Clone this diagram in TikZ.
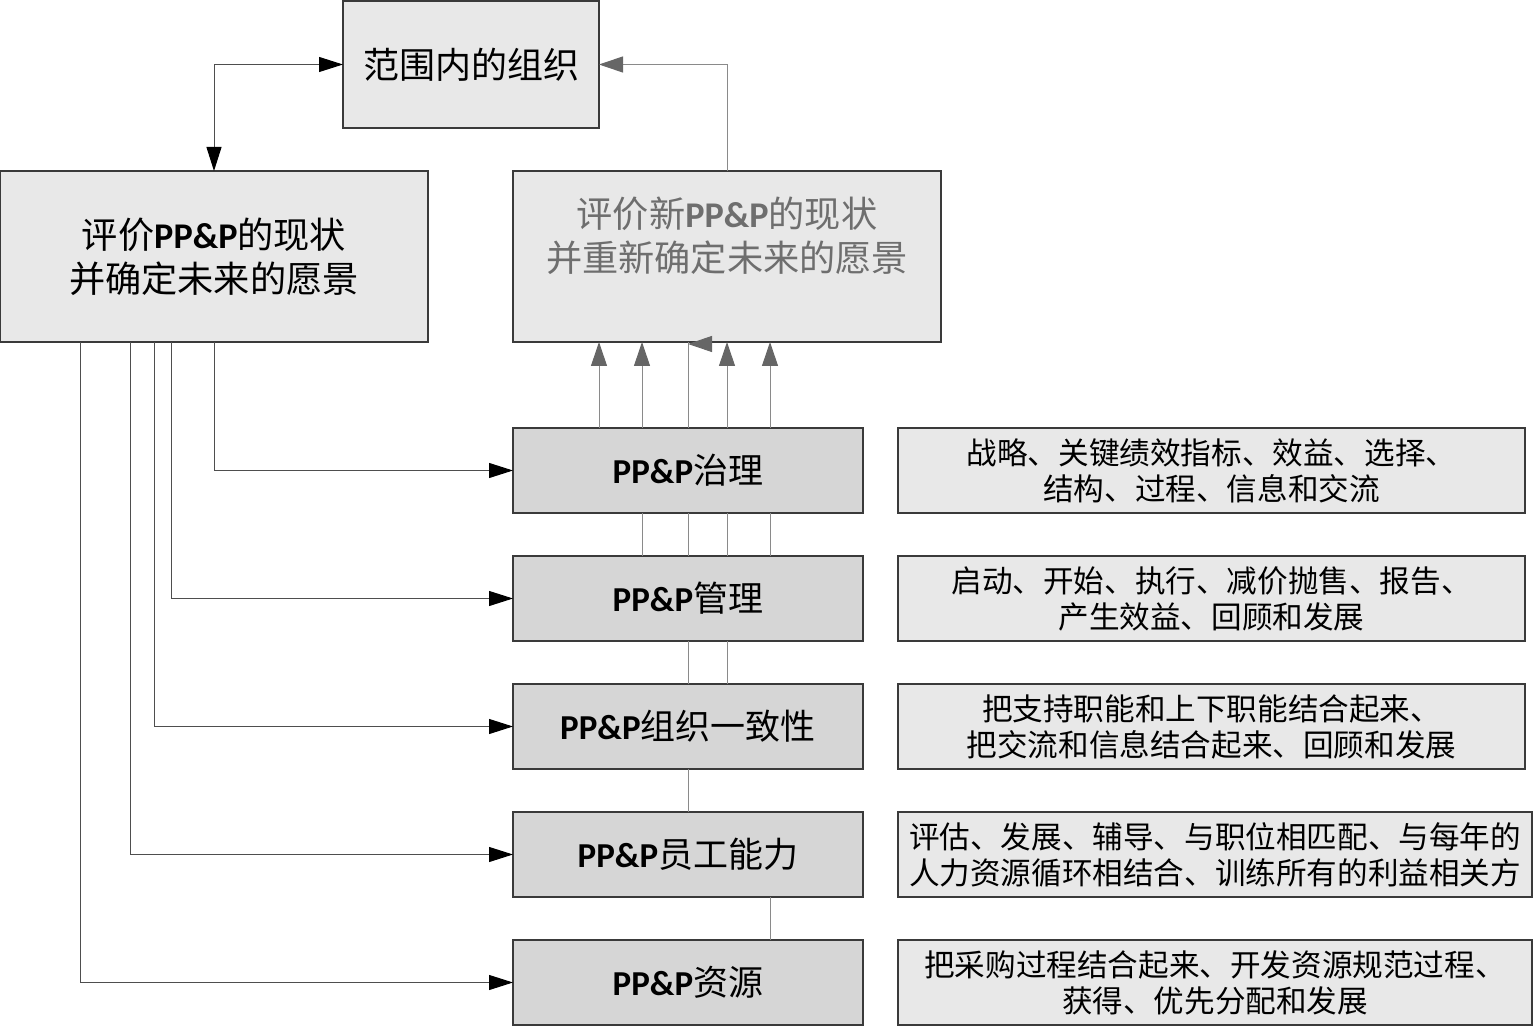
\documentclass[tikz,border=0pt]{standalone}
\usepackage{fontspec}
\setmainfont{Noto Sans CJK SC}
\newfontfamily\latfont{Carlito}
\usepackage{xcolor}
\usetikzlibrary{arrows.meta,positioning,calc}

\definecolor{boxlight}{HTML}{E8E8E8}
\definecolor{boxdark}{HTML}{D6D6D6}
\definecolor{edge}{HTML}{3A3A3A}
\definecolor{wire}{HTML}{8A8A8A}
\definecolor{tipgray}{HTML}{666666}
\definecolor{newtext}{HTML}{6E6E6E}

\newcommand{\ppp}{{\latfont\bfseries PP\&P}}

\tikzset{
    box/.style={draw=edge, line width=0.7pt, fill=boxlight, align=center, inner sep=0pt, outer sep=0pt},
    areabox/.style={box, fill=boxdark, minimum width=175pt, minimum height=42.5pt,
        font=\fontsize{17.5}{20}\selectfont},
    descbox/.style={box, minimum width=313.5pt, minimum height=42.5pt,
        font=\fontsize{15.3}{18}\selectfont},
    bigfont/.style={font=\fontsize{18.1}{22}\selectfont},
    darkline/.style={draw=edge!90, line width=0.5pt},
    grayline/.style={draw=wire, line width=0.5pt},
    blacktip/.tip={Triangle[length=12pt, width=7.5pt, color=black]},
    blackarrow/.style={darkline, -blacktip},
    grayarrow/.style={grayline, -{Triangle[length=12pt, width=8pt, color=tipgray]}}
}

\begin{document}
\begin{tikzpicture}[x=0.5pt, y=-0.5pt]
    \useasboundingbox (0,0) rectangle (1533,1027);

    % Top boxes
    \node[box, minimum width=128pt, minimum height=63.5pt, font=\fontsize{18}{20}\selectfont] (scope) at (471,64.5) {范围内的组织};
    \node[box, bigfont, minimum width=214pt, minimum height=85.5pt] (eval) at (214,256.5) {评价\ppp 的现状\\并确定未来的愿景};
    \node[box, bigfont, text=newtext, minimum width=214pt, minimum height=85.5pt] (evalnew) at (727,256.5) {评价新\ppp 的现状\\并重新确定未来的愿景\\ \mbox{}};

    % PP&P areas
    \node[areabox] (gov) at (688,470.5) {\ppp 治理};
    \node[areabox, below=21.5pt of gov] (mgmt) {\ppp 管理};
    \node[areabox, below=21.5pt of mgmt] (align) {\ppp 组织一致性};
    \node[areabox, below=21.5pt of align] (staff) {\ppp 员工能力};
    \node[areabox, below=21.5pt of staff] (res) {\ppp 资源};

    % Descriptions
    \node[descbox, right=17.5pt of gov] (govtxt) {战略、关键绩效指标、效益、选择、\\结构、过程、信息和交流};
    \node[descbox, right=17.5pt of mgmt] (mgmttxt) {启动、开始、执行、减价抛售、报告、\\产生效益、回顾和发展};
    \node[descbox, right=17.5pt of align] (aligntxt) {把支持职能和上下职能结合起来、\\把交流和信息结合起来、回顾和发展};
    \node[descbox, minimum width=317pt, right=17.5pt of staff] (stafftxt) {评估、发展、辅导、与职位相匹配、与每年的\\人力资源循环相结合、训练所有的利益相关方};
    \node[descbox, minimum width=317pt, right=17.5pt of res] (restxt) {把采购过程结合起来、开发资源规范过程、\\获得、优先分配和发展};

    % Columns of the vertical wires
    \coordinate (c1) at (599,0);
    \coordinate (c2) at (642,0);
    \coordinate (c3) at (688,0);
    \coordinate (c4) at (727,0);
    \coordinate (c5) at (770,0);
    \coordinate (l1) at (80,0);
    \coordinate (l2) at (130,0);
    \coordinate (l3) at (154,0);
    \coordinate (l4) at (171,0);

    % Loop round the scope box
    \draw[darkline, blacktip-blacktip] (eval.north) |- (scope.west);
    \draw[grayarrow] (evalnew.north -| c4) |- (scope.east);

    % From the evaluation to each area
    \draw[blackarrow] (eval.south) |- (gov.west);
    \draw[blackarrow] (eval.south -| l4) |- (mgmt.west);
    \draw[blackarrow] (eval.south -| l3) |- (align.west);
    \draw[blackarrow] (eval.south -| l2) |- (staff.west);
    \draw[blackarrow] (eval.south -| l1) |- (res.west);

    % Areas up to the new evaluation
    \foreach \c in {c1,c2,c4,c5}
        \draw[grayarrow] (gov.north -| \c) -- (evalnew.south -| \c);
    \draw[grayline] (gov.north -| c3) -- (evalnew.south -| c3);
    \draw[grayarrow] ($(evalnew.south -| c3)+(22,2)$) -- ($(evalnew.south -| c3)+(0,2)$);
    \foreach \c in {c2,c3,c4,c5}
        \draw[grayline] (mgmt.north -| \c) -- (gov.south -| \c);
    \foreach \c in {c3,c4}
        \draw[grayline] (align.north -| \c) -- (mgmt.south -| \c);
    \draw[grayline] (staff.north -| c3) -- (align.south -| c3);
    \draw[grayline] (res.north -| c5) -- (staff.south -| c5);
\end{tikzpicture}
\end{document}
